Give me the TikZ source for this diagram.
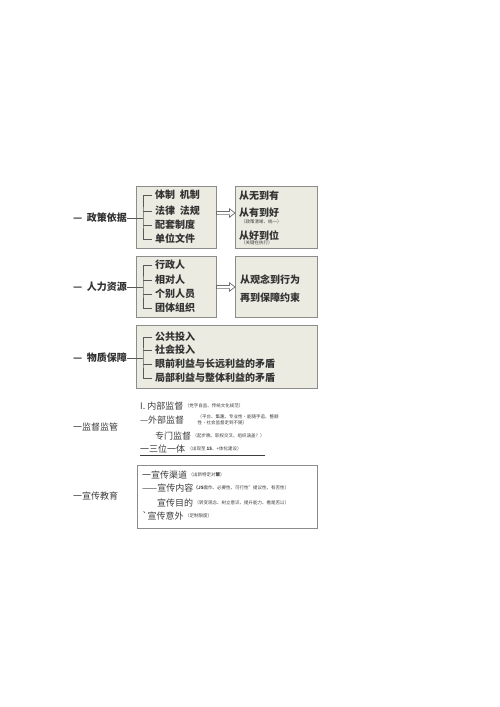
\documentclass[tikz,border=0pt]{standalone}
\usepackage{fontspec}
\newfontfamily\cjk{Noto Sans CJK SC}
\usepackage{tikz}
\usetikzlibrary{arrows.meta, positioning}
\definecolor{panelfill}{HTML}{ECEBE2}
\definecolor{panelline}{HTML}{8C8C8C}
\definecolor{inkgray}{HTML}{3C3C3C}
\definecolor{flowline}{HTML}{6E6E6E}

\begin{document}
\begin{tikzpicture}[x=1pt,y=-1pt]
\tikzset{panel/.style = {draw=panelline, fill=panelfill, line width=0.8pt, anchor=north west, inner sep=0pt},
  item/.style = {anchor=west, inner sep=0pt, font=\cjk\bfseries\fontsize{10}{10}\selectfont, text=black!80},
  plain/.style = {anchor=west, inner sep=0pt, font=\cjk\fontsize{9}{9}\selectfont, text=inkgray},
  note/.style = {anchor=west, inner sep=0pt, font=\cjk\fontsize{4.5}{5.5}\selectfont, text=inkgray, align=left},
  edge/.style = {draw=black!65, line width=0.5pt},
  flow/.style = {draw=flowline, fill=white, line width=0.7pt, line join=miter}}
\useasboundingbox (0,0) rectangle (500,707);
            % panels
	\node[panel, minimum width=80pt, minimum height=62pt] (policy) at (136,186) {};
	\node[panel, minimum width=82pt, minimum height=62pt] (stages) at (235,186) {};
	\node[panel, minimum width=80pt, minimum height=61pt] (staff) at (136,256) {};
	\node[panel, minimum width=82pt, minimum height=61pt] (ideas) at (235,256) {};
	\node[panel, minimum width=181pt, minimum height=63pt] (means) at (136,325) {};
	\node[panel, fill=white, minimum width=180pt, minimum height=63pt] (promo) at (137,465) {};
	\coordinate (policyout) at (216.5,213);
	\coordinate (staffout) at (216.5,287);
            % vertices
	\node[item] (zcl) at (73,218) {—\ \ 政策依据};
	\node[item] (zc1) at (155,195) {体制\ \ 机制};
	\node[item] (zc2) at (155,211) {法律\ \ 法规};
	\node[item] (zc3) at (155,225) {配套制度};
	\node[item] (zc4) at (155,239) {单位文件};
	\coordinate (zcs) at (143,218);
	\node[item] (jg1) at (239,196) {从无到有};
	\node[item] (jg2) at (239,213) {从有到好};
	\node[note] (jg2n) at (241,222) {（政策清晰、统一）};
	\node[item] (jg3) at (239,236) {从好到位};
	\node[note] (jg3n) at (241,243) {（关键在执行）};
	\node[item] (rll) at (73,287) {—\ \ 人力资源};
	\node[item] (rl1) at (155,265) {行政人};
	\node[item] (rl2) at (155,280) {相对人};
	\node[item] (rl3) at (155,294) {个别人员};
	\node[item] (rl4) at (155,308) {团体组织};
	\coordinate (rls) at (143,287);
	\node[item] (ys1) at (240,280) {从观念到行为};
	\node[item] (ys2) at (240,298) {再到保障约束};
	\node[item] (wzl) at (73,358) {—\ \ 物质保障};
	\node[item] (wz1) at (155,337) {公共投入};
	\node[item] (wz2) at (155,350) {社会投入};
	\node[item] (wz3) at (155,364) {眼前利益与长远利益的矛盾};
	\node[item] (wz4) at (155,378) {局部利益与整体利益的矛盾};
	\coordinate (wzs) at (143,358);
            % supervision
	\node[plain] (jdl) at (73,427) {一监督监管};
	\node[plain] (jd1) at (140,406) {I. 内部监督};
	\node[note, right=1pt of jd1] (jd1n) {（党字自监、传统文化规范）};
	\node[plain] (jd2) at (140,420) {—外部监督};
	\node[note, right=13pt of jd2] (jd2n) {（平台、集趣、专业性·能随手追、整顺\\性·社会监督走到不随）};
	\node[plain] (jd3) at (155,436) {专门监督};
	\node[note, right=1pt of jd3] (jd3n) {（起步晚、职权交叉、组织涵盖？）};
	\node[plain] (jd4) at (140,449) {一三位一体};
	\node[note, right=2pt of jd4] (jd4n) {（出现至 \textbf{15}、+体化建设）};
            % education
	\node[plain] (xjl) at (73,496) {一宣传教育};
	\node[plain] (xj1) at (142,475) {一宣传渠道};
	\node[note, right=1pt of xj1] (xj1n) {（出新特定对\textbf{策}）};
	\node[plain] (xj2) at (142,488) {——宣传内容};
	\node[note, right=0pt of xj2] (xj2n) {\textbf{（JS}需作、必要性、可行性”提议性、有否性）};
	\node[plain] (xj3) at (157,503) {宣传目的};
	\node[note, right=1pt of xj3] (xj3n) {（转变观念、树立意识、提升能力、看是否以）};
	\node[plain] (xj4) at (142,516) {`宣传意外};
	\node[note, right=1pt of xj4] (xj4n) {（足制限度）};
            %edges
	\draw[edge] (zcl) -- (zcs);
	\draw[edge] ([xshift=-3pt]zc1.west) -| (zcs) |- ([xshift=-3pt]zc4.west);
	\draw[edge] ([xshift=-3pt]zc2.west) -- ++(-9,0);
	\draw[edge] ([xshift=-3pt]zc3.west) -- ++(-9,0);
	\draw[edge] (rll) -- (rls);
	\draw[edge] ([xshift=-3pt]rl1.west) -| (rls) |- ([xshift=-3pt]rl4.west);
	\draw[edge] ([xshift=-3pt]rl2.west) -- ++(-9,0);
	\draw[edge] ([xshift=-3pt]rl3.west) -- ++(-9,0);
	\draw[edge] (wzl) -- (wzs);
	\draw[edge] ([xshift=-3pt]wz1.west) -| (wzs) |- ([xshift=-3pt]wz4.west);
	\draw[edge] ([xshift=-3pt]wz2.west) -- ++(-9,0);
	\draw[edge] ([xshift=-3pt]wz3.west) -- ++(-9,0);
            % hollow arrows
	\draw[flow] (policyout) ++(0,-1.6) -- ++(13,0) -- ++(0,-2.6) -- ++(5.5,4.2) -- ++(-5.5,4.2) -- ++(0,-2.6) -- ++(-13,0) -- cycle;
	\draw[flow] (staffout) ++(0,-1.6) -- ++(13,0) -- ++(0,-2.6) -- ++(5.5,4.2) -- ++(-5.5,4.2) -- ++(0,-2.6) -- ++(-13,0) -- cycle;
	\draw[edge, draw=inkgray] ([yshift=-2pt]jd4.south west) -- ++(125,0);
\end{tikzpicture}
\end{document}
